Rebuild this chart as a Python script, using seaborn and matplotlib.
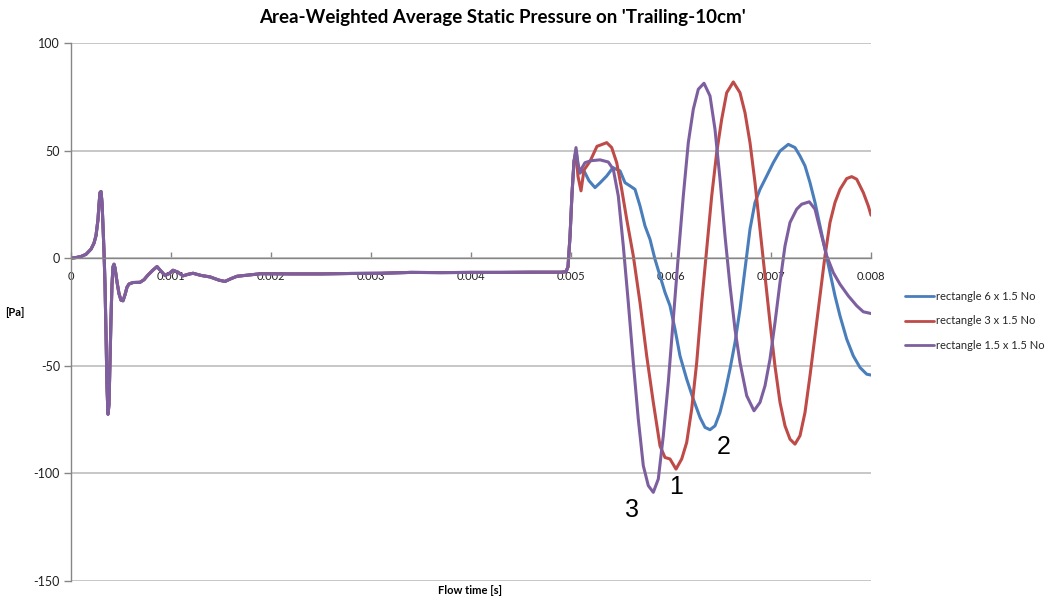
import matplotlib
matplotlib.use("Agg")
import matplotlib.pyplot as plt
import seaborn as sns
import pandas as pd
import numpy as np

# ---- data ----
series_names = ["rectangle 6 x 1.5 No", "rectangle 3 x 1.5 No", "rectangle 1.5 x 1.5 No"]
series_colors = ["#4A7EBB", "#BE4B48", "#7D5FA0"]

# shared initial transient (all three cases coincide)
t_early = [0, 0.00005, 0.0001, 0.00015, 0.0002, 0.00023, 0.00025, 0.00027, 0.00028, 0.00029,
           0.0003, 0.00031, 0.00032, 0.00033, 0.00034, 0.00035, 0.00036, 0.00037, 0.00038,
           0.00039, 0.0004, 0.00041, 0.00042, 0.00043, 0.00044, 0.00046, 0.00048, 0.0005,
           0.00052, 0.00054, 0.00056, 0.00058, 0.00062, 0.00069, 0.00073, 0.00077, 0.00082,
           0.00086, 0.0009, 0.00094, 0.00098, 0.00102, 0.00107, 0.00112, 0.00117, 0.00122,
           0.0013, 0.00139, 0.00148, 0.00154, 0.0016, 0.00166, 0.00176, 0.0019, 0.0022,
           0.0025, 0.0028, 0.0031, 0.0034, 0.0037, 0.004, 0.0043, 0.0046, 0.0049, 0.00495,
           0.00497, 0.00499, 0.00501, 0.00503]
p_early = [0, 0.3, 0.8, 1.8, 4.2, 7, 10.5, 18, 25, 30.5,
           31, 26, 15, 3, -12, -35, -60, -72.5, -68,
           -48, -28, -12, -4, -2.8, -4.5, -11, -16.5, -19.5,
           -19.8, -17, -13.5, -12, -11.3, -11.2, -10, -7.8, -5.5,
           -3.9, -6, -8, -7.2, -5.6, -6.5, -8.2, -7.5, -7,
           -8, -8.7, -10.2, -10.8, -9.5, -8.4, -7.9, -7.2, -7.3,
           -7.3, -7.1, -7.0, -6.6, -6.7, -6.6, -6.6, -6.5, -6.5, -6.3,
           -4, 10, 30, 45]

# case 1: rectangle 6 x 1.5
t_6 = [0.00505, 0.00508, 0.00513, 0.00518, 0.00524, 0.00529, 0.005357, 0.00542, 0.00544,
       0.00549, 0.00554, 0.00559, 0.00564, 0.00569, 0.00574, 0.00579, 0.00584, 0.00589,
       0.00594, 0.00599, 0.00604, 0.00609, 0.006157, 0.006223, 0.00629, 0.00634, 0.00639,
       0.00644, 0.00649, 0.00654, 0.00659, 0.00664, 0.00669, 0.00674, 0.00679, 0.00684,
       0.00689, 0.006957, 0.007023, 0.00709, 0.007173, 0.00724, 0.00729, 0.00734, 0.00739,
       0.00744, 0.00749, 0.00754, 0.00759, 0.00764, 0.00769, 0.007757, 0.007823, 0.00789,
       0.007957, 0.008]
p_6 = [50, 39.8, 40.6, 36, 32.8, 35, 38.2, 42.1, 41.6,
       40.6, 35.1, 33.6, 32, 24.3, 15, 8.8, -0.5, -8.2,
       -15.9, -22.1, -33, -45.4, -56.2, -65.5, -74, -78.6, -79.7,
       -77.9, -71.7, -62.4, -51.5, -39.2, -23.7, -5.1, 13.5, 25.9,
       32, 38.2, 44.4, 49.8, 52.9, 51.4, 47.5, 42.9, 35.1,
       25.9, 15, 4.2, -6.7, -17.5, -26.8, -37.6, -45.4, -50.8,
       -53.9, -54.3]

# case 2: rectangle 3 x 1.5
t_3 = [0.00505, 0.00507, 0.0051, 0.00513, 0.00519, 0.00526, 0.00529, 0.005357, 0.005407,
       0.005457, 0.005507, 0.005557, 0.005623, 0.00569, 0.005757, 0.005823, 0.00589, 0.00594,
       0.00599, 0.00605, 0.006107, 0.006157, 0.006207, 0.006257, 0.006307, 0.006357, 0.006407,
       0.006457, 0.006507, 0.006557, 0.006623, 0.00669, 0.00674, 0.00679, 0.00684, 0.00689,
       0.00694, 0.00699, 0.00704, 0.00709, 0.00714, 0.00719, 0.00724, 0.00729, 0.00734,
       0.00739, 0.00744, 0.00749, 0.00754, 0.00759, 0.00764, 0.00769, 0.007757, 0.007807,
       0.007857, 0.007923, 0.007973, 0.008]
p_3 = [49, 38, 31.3, 41, 45, 52, 52.5, 53.7, 51.4,
       44.4, 32, 18.1, 1.1, -20.6, -45.4, -67, -87.2, -92.6,
       -93.3, -98, -93.3, -85.6, -70.1, -48.5, -20.6, 4.2, 28.9,
       49.1, 64.6, 76.9, 81.9, 76.9, 67.6, 53.7, 35.1, 13.5,
       -8.2, -29.9, -50.2, -67, -77.9, -84.1, -86.4, -82.5, -71.7,
       -54.6, -36.1, -17.5, 1.1, 16.6, 25.9, 32, 37, 37.9,
       36.7, 30.5, 24.3, 20.0]

# case 3: rectangle 1.5 x 1.5
t_15 = [0.00505, 0.00507, 0.00509, 0.00511, 0.00514, 0.0052, 0.00529, 0.005373, 0.005423,
        0.005473, 0.005523, 0.005573, 0.005623, 0.005673, 0.005723, 0.005773, 0.005823, 0.005873,
        0.005923, 0.005973, 0.006023, 0.006073, 0.006123, 0.006173, 0.006223, 0.006273, 0.00633,
        0.00639, 0.00644, 0.00649, 0.00654, 0.00659, 0.00664, 0.00669, 0.006757, 0.00683,
        0.00689, 0.00694, 0.00699, 0.00704, 0.00709, 0.00714, 0.00719, 0.007257, 0.007307,
        0.007383, 0.00744, 0.00749, 0.007557, 0.007623, 0.00769, 0.007773, 0.007857, 0.007923,
        0.008]
p_15 = [51.4, 44, 39.5, 42, 44.4, 45.3, 45.7, 44.7, 41.3,
        28.9, 5.7, -20.6, -48.5, -74.8, -96.4, -105.7, -108.8, -102.6,
        -82.5, -57.7, -28.3, 1.1, 28.9, 53.7, 69.2, 78.5, 81.3,
        75.4, 59.9, 36.7, 10.4, -12.8, -33, -48.5, -63.9, -70.9,
        -67, -59.3, -46.9, -29.9, -11.3, 5.7, 16.6, 22.8, 25.1,
        26.2, 22.8, 13.5, 1.1, -6.7, -12.1, -17.5, -22.1, -24.9,
        -25.7]

x_ticks = [0, 0.001, 0.002, 0.003, 0.004, 0.005, 0.006, 0.007, 0.008]
x_tick_labels = ["0", "0.001", "0.002", "0.003", "0.004", "0.005", "0.006", "0.007", "0.008"]
y_ticks = [-150, -100, -50, 0, 50, 100]

title = "Area-Weighted Average Static Pressure on 'Trailing-10cm'"

# ---- build long table ----
late = [(t_6, p_6), (t_3, p_3), (t_15, p_15)]
frames = []
for name, (tl, pl) in zip(series_names, late):
    frames.append(pd.DataFrame({"t": list(t_early) + list(tl),
                                "p": list(p_early) + list(pl),
                                "series": name}))
df = pd.concat(frames, ignore_index=True)

# ---- plot ----
sns.set_theme(style="white")
plt.rcParams["font.family"] = ["Lato", "DejaVu Sans"]

fig = plt.figure(figsize=(10.48, 6), dpi=100)
ax = fig.add_axes([71 / 1048, 1 - 581 / 600, 800 / 1048, 538 / 600])

sns.lineplot(data=df, x="t", y="p", hue="series", hue_order=series_names,
             palette=series_colors, sort=False, estimator=None,
             linewidth=2.2, ax=ax)
for ln in ax.get_lines():
    ln.set_solid_joinstyle("round")
    ln.set_solid_capstyle("round")

ax.set_xlim(0, 0.008)
ax.set_ylim(-150, 100)
ax.set_yticks(y_ticks)
ax.set_yticklabels([str(v) for v in y_ticks])
ax.set_xticks(x_ticks)
ax.set_xticklabels(x_tick_labels)
ax.set_xlabel("")
ax.set_ylabel("")

ax.yaxis.grid(True, color="#BEBEBE", linewidth=1.2)
ax.xaxis.grid(False)
ax.set_axisbelow(True)
for s in ["top", "right"]:
    ax.spines[s].set_visible(False)
ax.spines["bottom"].set_position(("data", 0))
ax.spines["bottom"].set_color("#868686")
ax.spines["bottom"].set_linewidth(1.0)
ax.spines["left"].set_color("#868686")
ax.spines["left"].set_linewidth(1.0)

ax.tick_params(axis="y", direction="out", length=5, width=1, color="#868686",
               labelsize=9, labelcolor="#202020", pad=3, left=True)
ax.tick_params(axis="x", direction="in", length=4, width=1, color="#868686",
               labelsize=8, labelcolor="#202020", pad=9, bottom=True)

handles, labels = ax.get_legend_handles_labels()
leg = ax.legend(handles, labels, loc="center left",
                bbox_to_anchor=(905 / 1048, 1 - 321 / 600), bbox_transform=fig.transFigure,
                frameon=False, fontsize=8, handlelength=2.6, handletextpad=0.2,
                labelspacing=1.2, borderpad=0, borderaxespad=0)
for h in leg.get_lines():
    h.set_linewidth(2.0)

fig.text(502 / 1048, 1 - 17 / 600, title, ha="center", va="center",
         fontsize=13.5, fontweight="bold", color="black")
fig.text(5 / 1048, 1 - 313 / 600, "[Pa]", ha="left", va="center",
         fontsize=8, fontweight="bold", color="black")
fig.text(470 / 1048, 1 - 590 / 600, "Flow time [s]", ha="center", va="center",
         fontsize=8, fontweight="bold", color="black")

for txt, tx, ty in [("1", 0.00605, -106.4), ("2", 0.00653, -87.8), ("3", 0.00561, -117)]:
    ax.text(tx, ty, txt, ha="center", va="center", fontsize=18,
            family=["Liberation Sans", "DejaVu Sans"], color="black")

fig.savefig("out.png", dpi=100)
